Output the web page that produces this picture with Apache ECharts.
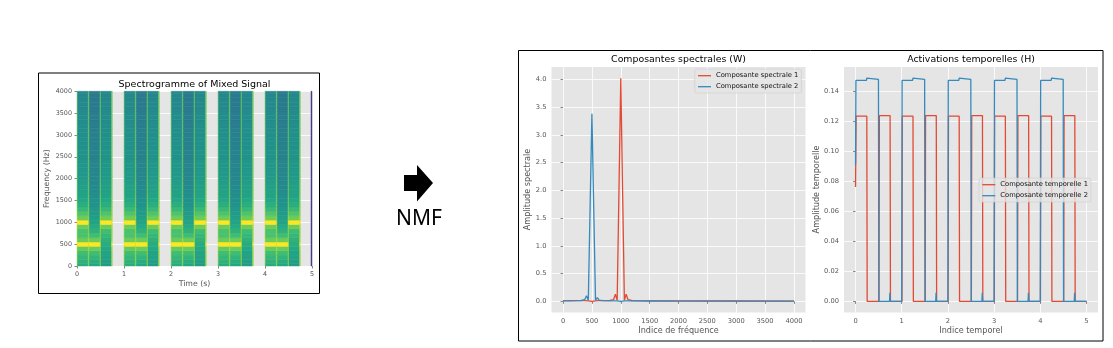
<!DOCTYPE html>
<html><head><meta charset="utf-8">
<script src="https://cdn.jsdelivr.net/npm/echarts@6.0.0/dist/echarts.min.js"></script>
<style>html,body{margin:0;padding:0;background:#fff}#c{width:1113px;height:348px}</style>
</head><body><div id="c"></div><script>
// ---------- Spectrogram data ----------
const specFreqBins = [0,100,200,300,400,500,600,700,800,900,1000,1100,1200,1300,1400,1500,1600,1700,1800,1900,2000,2100,2200,2300,2400,2500,2600,2700,2800,2900,3000,3100,3200,3300,3400,3500,3600,3700,3800,3900,4000];
const specBinHalf = 50;
const specProfiles = {
  both: [0.62,0.64,0.66,0.69,0.76,1.0,0.77,0.71,0.71,0.77,1.0,0.78,0.72,0.67,0.63,0.60,0.58,0.57,0.56,0.55,0.54,0.53,0.53,0.52,0.52,0.51,0.51,0.50,0.50,0.50,0.49,0.49,0.49,0.48,0.48,0.48,0.47,0.47,0.47,0.46,0.46],
  low:  [0.60,0.62,0.65,0.69,0.77,1.0,0.77,0.69,0.64,0.61,0.58,0.56,0.54,0.53,0.51,0.50,0.49,0.48,0.47,0.47,0.46,0.46,0.45,0.45,0.45,0.44,0.44,0.44,0.43,0.43,0.43,0.43,0.42,0.42,0.42,0.42,0.41,0.41,0.41,0.41,0.41],
  high: [0.55,0.56,0.57,0.58,0.60,0.62,0.64,0.66,0.69,0.77,1.0,0.78,0.72,0.67,0.63,0.60,0.58,0.57,0.56,0.55,0.54,0.53,0.53,0.52,0.52,0.51,0.51,0.50,0.50,0.50,0.49,0.49,0.49,0.48,0.48,0.48,0.47,0.47,0.47,0.46,0.46],
  edge: [0.84,0.84,0.84,0.84,0.86,0.95,0.86,0.84,0.84,0.86,0.95,0.86,0.83,0.82,0.81,0.80,0.80,0.79,0.79,0.79,0.78,0.78,0.78,0.78,0.78,0.78,0.78,0.78,0.77,0.77,0.77,0.77,0.77,0.77,0.77,0.77,0.77,0.77,0.77,0.77,0.77],
  tail: [0.15,0.15,0.15,0.15,0.15,0.15,0.15,0.15,0.15,0.15,0.15,0.15,0.15,0.15,0.15,0.15,0.15,0.15,0.15,0.15,0.15,0.15,0.15,0.15,0.15,0.15,0.15,0.15,0.15,0.15,0.15,0.15,0.15,0.15,0.15,0.15,0.15,0.15,0.15,0.15,0.15]
};
const specSegments = [
  [0.000,0.015,'edge'],[0.015,0.240,'both'],[0.240,0.260,'edge'],[0.260,0.490,'low'],[0.490,0.510,'edge'],[0.510,0.735,'high'],[0.735,0.750,'edge'],
  [1.000,1.015,'edge'],[1.015,1.240,'both'],[1.240,1.260,'edge'],[1.260,1.490,'low'],[1.490,1.510,'edge'],[1.510,1.735,'high'],[1.735,1.750,'edge'],
  [2.000,2.015,'edge'],[2.015,2.240,'both'],[2.240,2.260,'edge'],[2.260,2.490,'low'],[2.490,2.510,'edge'],[2.510,2.735,'high'],[2.735,2.750,'edge'],
  [3.000,3.015,'edge'],[3.015,3.240,'both'],[3.240,3.260,'edge'],[3.260,3.490,'low'],[3.490,3.510,'edge'],[3.510,3.735,'high'],[3.735,3.750,'edge'],
  [4.000,4.015,'edge'],[4.015,4.240,'both'],[4.240,4.260,'edge'],[4.260,4.490,'low'],[4.490,4.510,'edge'],[4.510,4.735,'high'],[4.735,4.750,'edge'],
  [4.980,5.000,'tail']
];
const specTimeTicks = [0,1,2,3,4,5];
const specFreqTicks = [0,500,1000,1500,2000,2500,3000,3500,4000];
const viridis = ['#440154','#482475','#414487','#355f8d','#2a788e','#21918c','#22a884','#44bf70','#7ad151','#bddf26','#fde725'];

// ---------- NMF spectral components (W) ----------
const wNames = ['Composante spectrale 1','Composante spectrale 2'];
const wComp1 = [[0,0.012],[125,0.012],[250,0.012],[375,0.012],[437.5,0.01],[468.75,0.005],[500,0.0],[531.25,0.005],[562.5,0.01],[625,0.012],[750,0.013],[812.5,0.015],[843.75,0.018],[875,0.03],[906.25,0.13],[937.5,0.02],[968.75,2.0],[1000,4.02],[1031.25,2.0],[1062.5,0.02],[1093.75,0.13],[1125,0.03],[1156.25,0.018],[1187.5,0.015],[1250,0.012],[1500,0.01],[2000,0.008],[3000,0.006],[4000,0.005]];
const wComp2 = [[0,0.01],[125,0.01],[250,0.012],[312.5,0.015],[375,0.03],[406.25,0.1],[437.5,0.02],[468.75,1.69],[500,3.38],[531.25,1.69],[562.5,0.02],[593.75,0.065],[625,0.02],[687.5,0.012],[875,0.008],[937.5,0.01],[968.75,0.004],[1000,0.0],[1031.25,0.03],[1062.5,0.01],[1125,0.008],[1500,0.006],[2000,0.005],[4000,0.004]];
const wFreqTicks = [0,500,1000,1500,2000,2500,3000,3500,4000];
const wAmpTicks = [0,0.5,1.0,1.5,2.0,2.5,3.0,3.5,4.0];

// ---------- NMF temporal activations (H) ----------
const hNames = ['Composante temporelle 1','Composante temporelle 2'];
const hComp1 = [
  [0,0.076],[0.012,0.1232],[0.244,0.1232],[0.252,0],[0.508,0],[0.516,0.1236],[0.748,0.1236],[0.756,0],
  [1.004,0],[1.012,0.1232],[1.244,0.1232],[1.252,0],[1.508,0],[1.516,0.1236],[1.748,0.1236],[1.756,0],
  [2.004,0],[2.012,0.1232],[2.244,0.1232],[2.252,0],[2.508,0],[2.516,0.1236],[2.748,0.1236],[2.756,0],
  [3.004,0],[3.012,0.1232],[3.244,0.1232],[3.252,0],[3.508,0],[3.516,0.1236],[3.748,0.1236],[3.756,0],
  [4.004,0],[4.012,0.1232],[4.244,0.1232],[4.252,0],[4.508,0],[4.516,0.1236],[4.748,0.1236],[4.756,0],
  [5.0,0]
];
const hComp2 = [
  [0,0.0908],[0.008,0.147],[0.236,0.147],[0.244,0.1485],[0.252,0.1476],[0.496,0.1476],[0.504,0],[0.736,0],[0.744,0.0057],[0.752,0],
  [1.0,0],[1.008,0.147],[1.236,0.147],[1.244,0.1485],[1.252,0.1476],[1.496,0.1476],[1.504,0],[1.736,0],[1.744,0.0057],[1.752,0],
  [2.0,0],[2.008,0.147],[2.236,0.147],[2.244,0.1485],[2.252,0.1476],[2.496,0.1476],[2.504,0],[2.736,0],[2.744,0.0057],[2.752,0],
  [3.0,0],[3.008,0.147],[3.236,0.147],[3.244,0.1485],[3.252,0.1476],[3.496,0.1476],[3.504,0],[3.736,0],[3.744,0.0057],[3.752,0],
  [4.0,0],[4.008,0.147],[4.236,0.147],[4.244,0.1485],[4.252,0.1476],[4.496,0.1476],[4.504,0],[4.736,0],[4.744,0.0057],[4.752,0],
  [5.0,0]
];
const hTimeTicks = [0,1,2,3,4,5];
const hAmpTicks = [0,0.02,0.04,0.06,0.08,0.10,0.12,0.14];

// ---------- build ----------
const specData = [];
specSegments.forEach(([t0, t1, name]) => {
  specProfiles[name].forEach((v, k) => {
    const f0 = Math.max(0, specFreqBins[k] - specBinHalf);
    const f1 = Math.min(4000, specFreqBins[k] + specBinHalf);
    specData.push([t0, t1, f0, f1, v]);
  });
});

const FONT = 'DejaVu Sans';
const RED = '#E24A33', BLUE = '#348ABD';

function axis(gi, min, max, ticks, fmt, fontSize, margin) {
  return {
    type: 'value', gridIndex: gi, min: min, max: max,
    axisLine: {show: false},
    axisTick: {show: true, length: 2.5, lineStyle: {color: '#555', width: 0.7}, customValues: ticks},
    axisLabel: {customValues: ticks, formatter: fmt, color: '#555', fontSize: fontSize, fontFamily: FONT, margin: margin},
    splitLine: {show: true, lineStyle: {color: '#fff', width: 0.8}}
  };
}
function txt(x, y, text, size, color, rot) {
  return {type: 'text', x: x, y: y, rotation: rot || 0, silent: true,
    style: {text: text, fontSize: size, fontFamily: FONT, fill: color, align: 'center', verticalAlign: 'middle'}};
}
function legendOpt(names, left, top) {
  return {data: names, orient: 'vertical', left: left, top: top, padding: [2.7, 3, 2.3, 3.3],
    icon: 'rect', itemWidth: 13, itemHeight: 1.3, itemGap: 3,
    textStyle: {fontSize: 6.75, lineHeight: 8, fontFamily: FONT, color: '#111'},
    backgroundColor: 'rgba(229,229,229,0.8)', borderColor: 'rgba(204,204,204,0.8)',
    borderWidth: 0.7, borderRadius: 2, selectedMode: false};
}
const intFmt = v => String(Math.round(v));

const chart = echarts.init(document.getElementById('c'), null, {renderer: 'canvas'});
chart.setOption({
  animation: false,
  backgroundColor: '#fff',
  grid: [
    {left: 77, top: 91.3, width: 235, height: 174.7, show: true, backgroundColor: '#E5E5E5', borderWidth: 0},
    {left: 551.5, top: 67, width: 254, height: 245.5, show: true, backgroundColor: '#E5E5E5', borderWidth: 0},
    {left: 844, top: 67, width: 254, height: 245.5, show: true, backgroundColor: '#E5E5E5', borderWidth: 0}
  ],
  xAxis: [
    axis(0, 0, 5, specTimeTicks, intFmt, 6.4, 5),
    axis(1, -200, 4200, wFreqTicks, intFmt, 6.7, 5),
    axis(2, -0.25, 5.25, hTimeTicks, intFmt, 6.7, 5)
  ],
  yAxis: [
    axis(0, 0, 4000, specFreqTicks, intFmt, 6.4, 5),
    axis(1, -0.201, 4.221, wAmpTicks, v => v.toFixed(1), 6.7, 5),
    axis(2, -0.0074, 0.1559, hAmpTicks, v => v.toFixed(2), 6.7, 5)
  ],
  visualMap: {type: 'continuous', show: false, min: 0, max: 1, dimension: 4, seriesIndex: 0, inRange: {color: viridis}},
  legend: [legendOpt(wNames, 694.7, 69), legendOpt(hNames, 979, 178)],
  series: [
    {type: 'custom', xAxisIndex: 0, yAxisIndex: 0, silent: true, data: specData,
     encode: {x: [0, 1], y: [2, 3]},
     renderItem: function (params, api) {
       const p0 = api.coord([api.value(0), api.value(3)]);
       const p1 = api.coord([api.value(1), api.value(2)]);
       const c = api.visual('color');
       return {type: 'rect', shape: {x: p0[0], y: p0[1], width: p1[0] - p0[0], height: p1[1] - p0[1]},
               style: {fill: c, stroke: c, lineWidth: 0.5}};
     }},
    {type: 'line', name: wNames[0], xAxisIndex: 1, yAxisIndex: 1, data: wComp1, symbol: 'none',
     lineStyle: {color: RED, width: 1.3}, itemStyle: {color: RED}},
    {type: 'line', name: wNames[1], xAxisIndex: 1, yAxisIndex: 1, data: wComp2, symbol: 'none',
     lineStyle: {color: BLUE, width: 1.3}, itemStyle: {color: BLUE}},
    {type: 'line', name: hNames[0], xAxisIndex: 2, yAxisIndex: 2, data: hComp1, symbol: 'none',
     lineStyle: {color: RED, width: 1.3}, itemStyle: {color: RED}},
    {type: 'line', name: hNames[1], xAxisIndex: 2, yAxisIndex: 2, data: hComp2, symbol: 'none',
     lineStyle: {color: BLUE, width: 1.3}, itemStyle: {color: BLUE}}
  ],
  graphic: {elements: [
    {type: 'rect', silent: true, shape: {x: 38.5, y: 73, width: 281, height: 220.5}, style: {fill: 'none', stroke: '#000', lineWidth: 1}},
    {type: 'rect', silent: true, shape: {x: 518.5, y: 50.5, width: 584.5, height: 290.5}, style: {fill: 'none', stroke: '#000', lineWidth: 1}},
    {type: 'polygon', silent: true, shape: {points: [[404,175],[417,175],[417,165],[433,183],[417,201.5],[417,191],[404,191]]}, style: {fill: '#000'}},
    {type: 'text', x: 419, y: 219.5, silent: true, style: {text: 'NMF', fontSize: 21, fontFamily: 'Noto Sans', fill: '#000', align: 'center', verticalAlign: 'middle'}},
    txt(194.5, 84.5, 'Spectrogramme of Mixed Signal', 9.5, '#000'),
    txt(47, 178.7, 'Frequency (Hz)', 7.8, '#555', Math.PI / 2),
    txt(194.5, 283.7, 'Time (s)', 7.8, '#555'),
    txt(678.5, 60, 'Composantes spectrales (W)', 9.4, '#000'),
    txt(528, 189.5, 'Amplitude spectrale', 8.1, '#555', Math.PI / 2),
    txt(678.5, 331, 'Indice de fréquence', 8.1, '#555'),
    txt(971, 60, 'Activations temporelles (H)', 9.4, '#000'),
    txt(816.7, 189.5, 'Amplitude temporelle', 8.1, '#555', Math.PI / 2),
    txt(971, 331, 'Indice temporel', 8.1, '#555')
  ]}
});
</script></body></html>
